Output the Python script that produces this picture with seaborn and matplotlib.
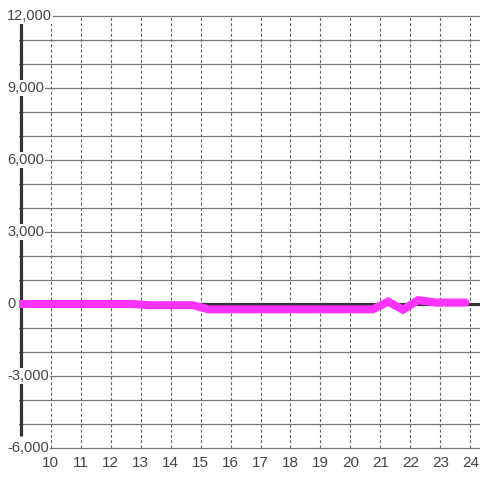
import matplotlib
matplotlib.use("Agg")
import matplotlib.pyplot as plt
import matplotlib.transforms as mtransforms
import seaborn as sns
import pandas as pd

# series
hours = [9.0, 12.75, 13.25, 14.75, 15.25, 20.75, 21.25, 21.75, 22.25, 22.85, 23.83]
values = [0, 0, -50, -50, -220, -220, 100, -240, 160, 60, 60]

x_ticks = list(range(10, 25))
y_label_ticks = [12000, 9000, 6000, 3000, 0, -3000, -6000]
y_grid = list(range(-6000, 12001, 1000))

sns.set_style("white")
plt.rcParams["font.family"] = ["Liberation Sans", "DejaVu Sans"]
plt.rcParams["lines.scale_dashes"] = False

W = H = 480
fig = plt.figure(figsize=(4.8, 4.8), dpi=100)
# axes box in pixels: left 19, top 14, right 480, bottom 450
ax = fig.add_axes([19 / W, (H - 450) / H, 461 / W, 436 / H])
px_y = 18000 / 432
ax.set_xlim(8.95, 8.95 + 461 / 30)
ax.set_ylim(-6000 - 2 * px_y, 12000 + 2 * px_y)
for s in ax.spines.values():
    s.set_visible(False)

for y in y_grid:
    ax.axhline(y, color="#777777", lw=0.9, zorder=1)
for x in x_ticks:
    ax.axvline(x, ymin=2 / 436, ymax=434 / 436, color="#666666", lw=0.8,
               linestyle=(0, (2.2, 1.6)), zorder=1)

ax.axhline(0, color="#333333", lw=2.3, zorder=2)
ax.vlines(9, -5500, 11700, color="#333333", lw=2.3, zorder=2, clip_on=False)

df = pd.DataFrame({"hour": hours, "value": values})
sns.lineplot(data=df, x="hour", y="value", color="#ff33ff", lw=5.8, ax=ax,
             zorder=3, solid_joinstyle="miter")

ax.set_xticks(x_ticks)
ax.set_xticklabels([str(x) for x in x_ticks])
ax.set_yticks([])
ax.tick_params(axis="x", length=0, pad=4, labelsize=11, labelcolor="#444444")
ax.set_xlabel("")
ax.set_ylabel("")

trans = mtransforms.blended_transform_factory(fig.transFigure, ax.transData)
for y in y_label_ticks:
    ax.text(7 / W, y, f"{y:,}", transform=trans, ha="left", va="center",
            fontsize=10.5, color="#444444", zorder=5, clip_on=False,
            bbox=dict(boxstyle="square,pad=0.08", fc="white", ec="none"))

fig.savefig("out.png", dpi=100)
